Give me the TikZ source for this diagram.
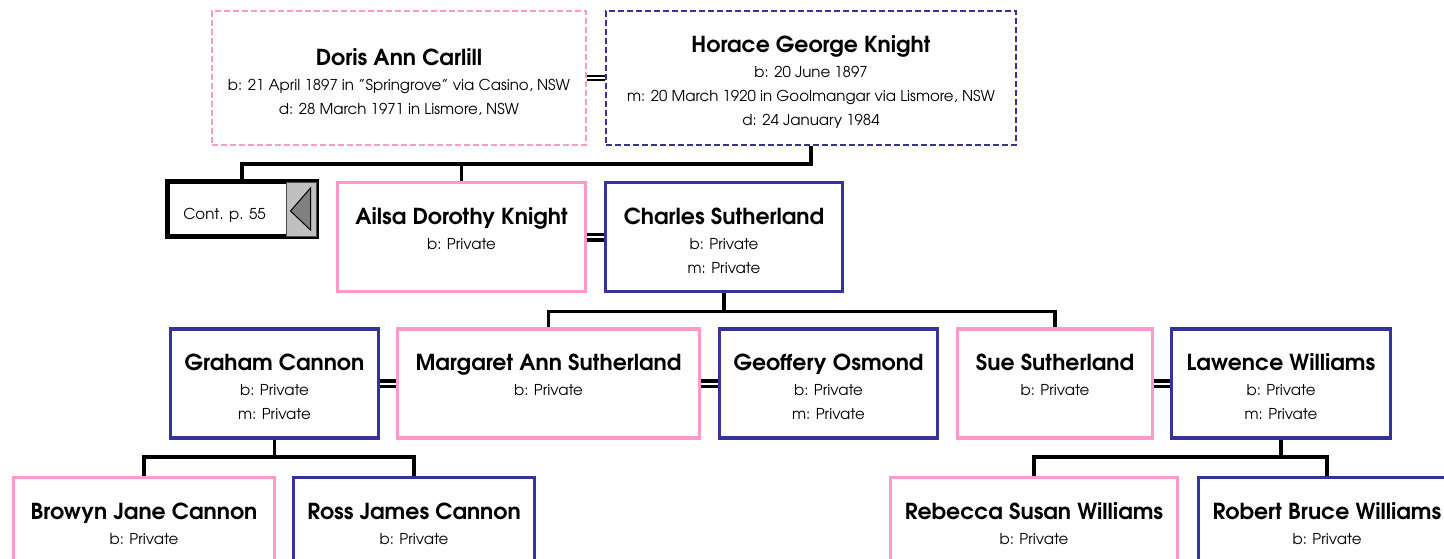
\documentclass[tikz,border=0pt]{standalone}
\usepackage{fontspec}
\setmainfont{TeX Gyre Adventor}
\usepackage{xcolor}
\usetikzlibrary{positioning,calc}
\definecolor{fempink}{RGB}{255,153,204}
\definecolor{maleblue}{RGB}{51,51,153}
\definecolor{tabgrey}{RGB}{192,192,192}
\newcommand{\detailfont}{\fontsize{15}{24}\selectfont}
\newcommand{\namefont}{\fontsize{22}{24}\selectfont\bfseries}
\newcommand{\pname}[1]{{\namefont #1}\\[1pt]}

\begin{document}
\begin{tikzpicture}[x=1pt, y=-1pt,
    person/.style={draw, line width=3.5pt, align=center, inner sep=0pt,
      text height=72pt, text depth=0pt, font=\detailfont, minimum height=109pt},
    female/.style={person, draw=fempink},
    male/.style={person, draw=maleblue},
    parent/.style={line width=1.7pt, dash pattern=on 6pt off 3pt, minimum height=134pt},
    link/.style={draw=black, line width=3.5pt},
    marriage/.style={double, line width=3.5pt, double distance=2pt},
    marriagethin/.style={double, line width=2pt, double distance=2pt}]
  \useasboundingbox (0,0) rectangle (1444,559);
  \node[female, parent, minimum width=374pt, text height=73pt] (doris) at (399,78)
    {\pname{Doris Ann Carlill}b: 21 April 1897 in \symbol{34}Springrove\symbol{34} via Casino, NSW\\d: 28 March 1971 in Lismore, NSW};
  \node[male, parent, minimum width=410pt, text height=95pt] (horace) at (811,78)
    {\pname{Horace George Knight}b: 20 June 1897\\m: 20 March 1920 in Goolmangar via Lismore, NSW\\d: 24 January 1984};
  \node[draw, line width=5pt, minimum width=149pt, minimum height=54.5pt, inner sep=0pt,
    text height=19.5pt, text depth=0pt, font=\fontsize{15}{18}\selectfont] (cont) at (242,209.25)
    {Cont. p. 55\hspace*{35pt}};
  \node[female, minimum width=248pt] (ailsa) at (461.5,237) {\pname{Ailsa Dorothy Knight}b: Private\\\mbox{}};
  \node[male, minimum width=237pt] (charles) at (724,237) {\pname{Charles Sutherland}b: Private\\m: Private};
  \node[male, minimum width=208pt] (graham) at (274.5,383.5) {\pname{Graham Cannon}b: Private\\m: Private};
  \node[female, minimum width=302pt] (margaret) at (548.5,383.5) {\pname{Margaret Ann Sutherland}b: Private\\\mbox{}};
  \node[male, minimum width=218pt] (geoffery) at (828.5,383.5) {\pname{Geoffery Osmond}b: Private\\m: Private};
  \node[female, minimum width=195pt] (sue) at (1055,383.5) {\pname{Sue Sutherland}b: Private\\\mbox{}};
  \node[male, minimum width=219pt] (lawence) at (1281,383.5) {\pname{Lawence Williams}b: Private\\m: Private};
  \node[female, minimum width=261pt] (browyn) at (144,532) {\pname{Browyn Jane Cannon}b: Private\\\mbox{}};
  \node[male, minimum width=241pt] (ross) at (414,532) {\pname{Ross James Cannon}b: Private\\\mbox{}};
  \node[female, minimum width=287pt] (rebecca) at (1034,532) {\pname{Rebecca Susan Williams}b: Private\\\mbox{}};
  \node[male, minimum width=257pt] (robert) at (1327,532) {\pname{Robert Bruce Williams}b: Private\\\mbox{}};

  \filldraw[fill=tabgrey, draw=gray!60!black, line width=0.6pt]
    ($(cont.north east)+(-32.5,2.5)$) rectangle ($(cont.south east)+(-2.5,-2.5)$);
  \filldraw[fill=gray, draw=black, line width=1pt]
    ($(cont.east)+(-28.5,1.75)$) -- ($(cont.east)+(-8.5,-21.25)$) -- ($(cont.east)+(-8.5,20.75)$) -- cycle;

  \draw[marriagethin] (doris.east) -- (horace.west);
  \draw[marriage] (ailsa.east) -- (charles.west);
  \draw[marriage] (graham.east) -- (margaret.west);
  \draw[marriage] (margaret.east) -- (geoffery.west);
  \draw[marriage] (sue.east) -- (lawence.west);

  \coordinate (kids1) at ($(horace.south)+(0,18)$);
  \coordinate (kids2) at ($(charles.south)+(0,18)$);
  \coordinate (kids3) at ($(graham.south)+(0,17)$);
  \coordinate (kids4) at ($(lawence.south)+(0,17)$);
  \draw[link] (horace.south) -- (kids1) -| (cont.north);
  \draw[link] (ailsa.north) -- (ailsa.north |- kids1);
  \draw[link] (charles.south) -- (kids2);
  \draw[link] (margaret.north) |- (kids2) -| (sue.north);
  \draw[link] (graham.south) -- (kids3);
  \draw[link] (browyn.north) |- (kids3) -| (ross.north);
  \draw[link] (lawence.south) -- (kids4);
  \draw[link] (rebecca.north) |- (kids4) -| (robert.north);
\end{tikzpicture}
\end{document}
